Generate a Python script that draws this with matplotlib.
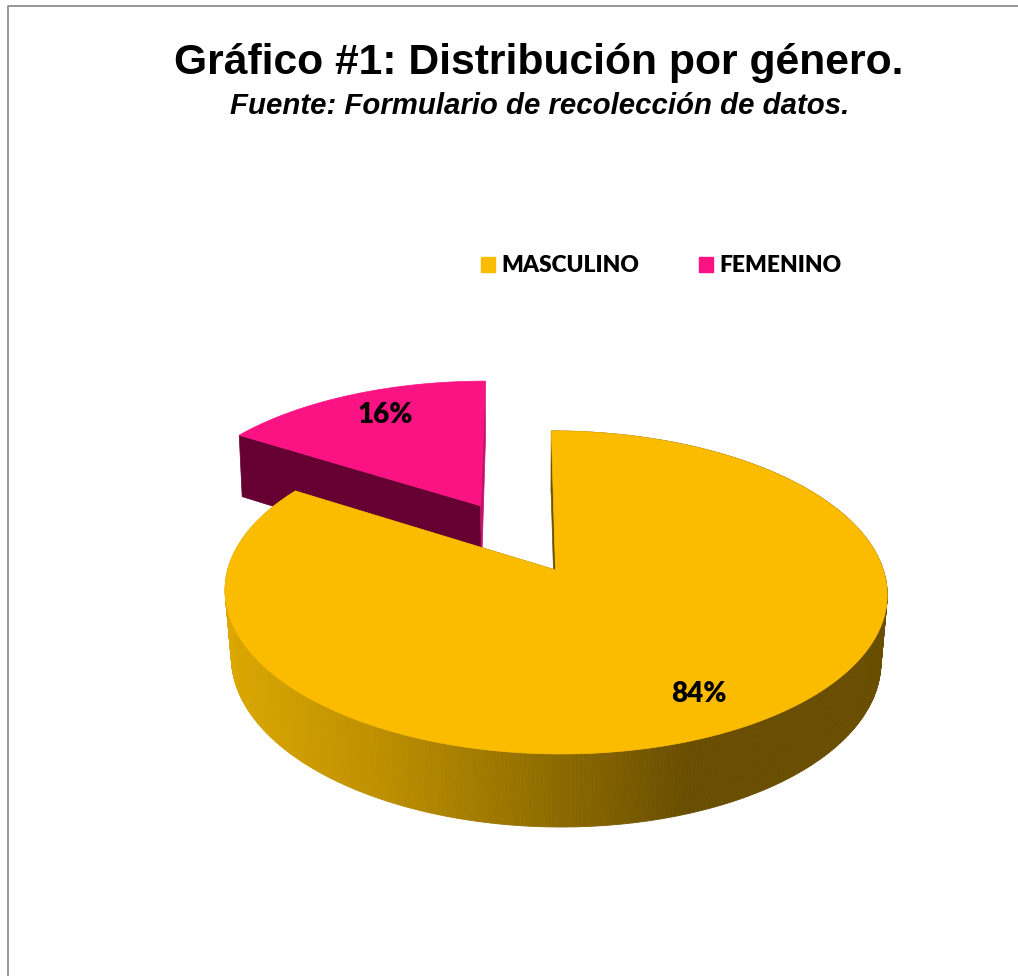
import numpy as np
from matplotlib import pyplot as plt
from matplotlib.patches import Patch
from matplotlib.collections import PolyCollection

categories = ["MASCULINO", "FEMENINO"]
shares = [84, 16]
title = "Gráfico #1: Distribución por género."
subtitle = "Fuente: Formulario de recolección de datos."

GOLD = "#FBBC00"
PINK = "#FB1283"
MAROON = "#660033"
SIDE_X = [225, 240, 380, 550, 685, 890]
SIDE_R = [0xDE, 0xD9, 0xBE, 0x8F, 0x69, 0x69]
SIDE_G = [0xA8, 0xA6, 0x90, 0x6C, 0x4E, 0x4E]
SIDE_B = [0x00, 0x00, 0x00, 0x00, 0x00, 0x00]

EXPLODE = 0.49


def project(u, v, plane):
    # perspective of the pie's unit disc onto the picture
    cx, cy, rx, ry, k, shear = plane
    z = 1 + k * v
    y = cy - ry * v / z
    x = cx + rx * u / z + shear * (y - cy)
    return x, y


TOP = (555.5, 570, 327.8, 158.4, 0.139, 0.03)
BOTTOM = (555.5, 637.8, 322, 164.6, 0.13, 0.03)


def slice_angles(start_share, share):
    a0 = np.pi / 2 - 2 * np.pi * start_share / 100
    a1 = a0 - 2 * np.pi * share / 100
    return np.linspace(a0, a1, int(share * 6) + 2)


def draw_slice(ax, angles, offset, color, cut_color, rim=False):
    u = np.cos(angles) + offset[0]
    v = np.sin(angles) + offset[1]
    x_top, y_top = project(u, v, TOP)
    x_bot, y_bot = project(u, v, BOTTOM)
    ax0, ay0 = project(offset[0], offset[1], TOP)
    bx0, by0 = project(offset[0], offset[1], BOTTOM)

    if rim:
        quads = []
        colors = []
        for i in range(len(angles) - 1):
            quads.append([(x_top[i], y_top[i]), (x_top[i + 1], y_top[i + 1]),
                          (x_bot[i + 1], y_bot[i + 1]), (x_bot[i], y_bot[i])])
            xm = (x_bot[i] + x_bot[i + 1]) / 2
            colors.append((np.interp(xm, SIDE_X, SIDE_R) / 255,
                           np.interp(xm, SIDE_X, SIDE_G) / 255,
                           np.interp(xm, SIDE_X, SIDE_B) / 255))
        ax.add_collection(PolyCollection(quads, facecolors=colors, edgecolors=colors, linewidths=0.6))

    # the two flat cuts of the slice
    ax.fill([x_top[0], ax0, bx0, x_bot[0]], [y_top[0], ay0, by0, y_bot[0]],
            color=cut_color[0], lw=0.5)
    ax.fill([x_top[-1], ax0, bx0, x_bot[-1]], [y_top[-1], ay0, by0, y_bot[-1]],
            color=cut_color[1], lw=0.5)

    ax.fill(np.r_[ax0, x_top], np.r_[ay0, y_top], color=color, lw=0.5)


fig = plt.figure(figsize=(10.18, 9.76), dpi=100)
ax = fig.add_axes([0, 0, 1, 1])
ax.set_xlim(0, 1018)
ax.set_ylim(976, 0)
ax.axis("off")

# chart frame, only left and top are inside the picture
ax.plot([8, 8, 1018], [976, 6, 6], color="#868686", lw=1.2)

pink_angles = slice_angles(shares[0], shares[1])
mid = (pink_angles[0] + pink_angles[-1]) / 2
offset = (EXPLODE * np.cos(mid), EXPLODE * np.sin(mid))
draw_slice(ax, pink_angles, offset, PINK, (MAROON, "#C2146E"))

# rim of the big slice runs clockwise from 12 o'clock
gold_angles = slice_angles(0, shares[0])
draw_slice(ax, gold_angles, (0, 0), GOLD, ("#6A5000", "#6A5000"), rim=True)

ax.text(538.5, 63, title, family="Liberation Sans", weight="bold", fontsize=30.7,
        ha="center", va="center", color="black")
ax.text(539.5, 106, subtitle, family="Liberation Sans", weight="bold", style="italic",
        fontsize=21.15, ha="center", va="center", color="black")

ax.text(698.5, 694, f"{shares[0]}%", family="Lato", weight="heavy", fontsize=20,
        ha="center", va="center", color="black")
ax.text(385, 415, f"{shares[1]}%", family="Lato", weight="heavy", fontsize=20,
        ha="center", va="center", color="black")

handles = [Patch(color=GOLD, label=categories[0]), Patch(color=PINK, label=categories[1])]
ax.legend(handles=handles, ncol=2, frameon=False, loc="center left",
          bbox_to_anchor=(460 / 1018, 1 - 266 / 976),
          prop={"family": "Lato", "weight": "heavy", "size": 16.4},
          handlelength=0.62, handleheight=0.62, handletextpad=0.3, columnspacing=2.6)

fig.savefig("out.png", dpi=100)
